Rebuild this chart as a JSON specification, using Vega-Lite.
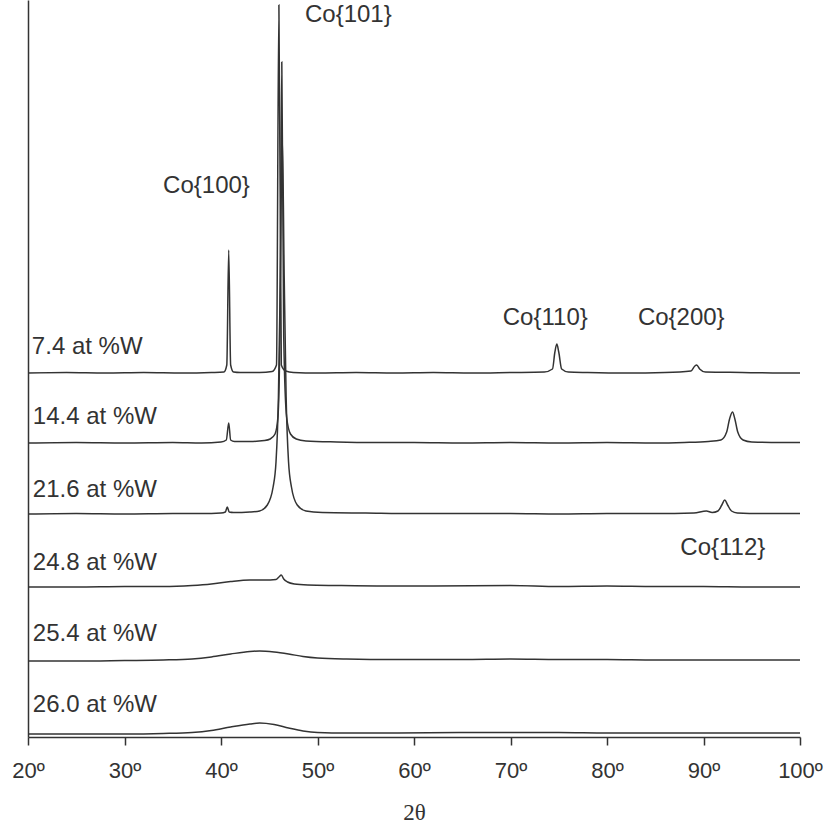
{
  "$schema": "https://vega.github.io/schema/vega-lite/v6.json",
  "width": 772,
  "height": 737,
  "autosize": {"type": "none"},
  "padding": {"left": 28, "top": 0, "right": 27, "bottom": 98},
  "background": "white",
  "config": {"view": {"stroke": null}},
  "datasets": {
    "traces": [
      {"s":"7.4","t":20,"y":364},{"s":"7.4","t":24,"y":364.5},{"s":"7.4","t":28,"y":364},{"s":"7.4","t":32,"y":364.5},{"s":"7.4","t":36,"y":364},{"s":"7.4","t":39,"y":364.5},{"s":"7.4","t":40.3,"y":365},{"s":"7.4","t":40.6,"y":372},{"s":"7.4","t":40.8,"y":487},{"s":"7.4","t":41.0,"y":372},{"s":"7.4","t":41.3,"y":365},{"s":"7.4","t":42,"y":364.5},{"s":"7.4","t":44,"y":364.5},{"s":"7.4","t":45.3,"y":365.5},{"s":"7.4","t":45.75,"y":372},{"s":"7.4","t":46.0,"y":732},{"s":"7.4","t":46.25,"y":372},{"s":"7.4","t":46.7,"y":366},{"s":"7.4","t":47.5,"y":364.5},{"s":"7.4","t":50,"y":364},{"s":"7.4","t":54,"y":364.5},{"s":"7.4","t":58,"y":364},{"s":"7.4","t":62,"y":364.5},{"s":"7.4","t":66,"y":364},{"s":"7.4","t":70,"y":364.5},{"s":"7.4","t":73.5,"y":365},{"s":"7.4","t":74.35,"y":368},{"s":"7.4","t":74.6,"y":385},{"s":"7.4","t":74.8,"y":393},{"s":"7.4","t":75.0,"y":385},{"s":"7.4","t":75.3,"y":368},{"s":"7.4","t":76,"y":365},{"s":"7.4","t":78,"y":364.5},{"s":"7.4","t":82,"y":364},{"s":"7.4","t":86,"y":364.5},{"s":"7.4","t":88.7,"y":366},{"s":"7.4","t":89.1,"y":371},{"s":"7.4","t":89.3,"y":372},{"s":"7.4","t":89.6,"y":368},{"s":"7.4","t":90.2,"y":365},{"s":"7.4","t":94,"y":364.5},{"s":"7.4","t":98,"y":364},{"s":"7.4","t":100,"y":364},

      {"s":"14.4","t":20,"y":294},{"s":"14.4","t":25,"y":294.5},{"s":"14.4","t":30,"y":294},{"s":"14.4","t":35,"y":294.5},{"s":"14.4","t":38,"y":294},{"s":"14.4","t":40,"y":295},{"s":"14.4","t":40.55,"y":297},{"s":"14.4","t":40.8,"y":314},{"s":"14.4","t":41.0,"y":297},{"s":"14.4","t":41.4,"y":295.5},{"s":"14.4","t":43,"y":295.5},{"s":"14.4","t":44.5,"y":296.5},{"s":"14.4","t":45.1,"y":298},{"s":"14.4","t":45.6,"y":303},{"s":"14.4","t":45.9,"y":320},{"s":"14.4","t":46.1,"y":400},{"s":"14.4","t":46.3,"y":675},{"s":"14.4","t":46.5,"y":400},{"s":"14.4","t":46.8,"y":320},{"s":"14.4","t":47.2,"y":303},{"s":"14.4","t":47.8,"y":298},{"s":"14.4","t":48.8,"y":296},{"s":"14.4","t":52,"y":295},{"s":"14.4","t":56,"y":294.5},{"s":"14.4","t":60,"y":294.5},{"s":"14.4","t":65,"y":294},{"s":"14.4","t":70,"y":294.5},{"s":"14.4","t":75,"y":294},{"s":"14.4","t":80,"y":294.5},{"s":"14.4","t":85,"y":294},{"s":"14.4","t":88,"y":294.5},{"s":"14.4","t":90.5,"y":295.5},{"s":"14.4","t":91.8,"y":297},{"s":"14.4","t":92.4,"y":305},{"s":"14.4","t":92.7,"y":318},{"s":"14.4","t":93.0,"y":325},{"s":"14.4","t":93.25,"y":318},{"s":"14.4","t":93.55,"y":305},{"s":"14.4","t":94.1,"y":297},{"s":"14.4","t":95,"y":295},{"s":"14.4","t":98,"y":294.5},{"s":"14.4","t":100,"y":294.5},

      {"s":"21.6","t":20,"y":223},{"s":"21.6","t":25,"y":223.5},{"s":"21.6","t":30,"y":223},{"s":"21.6","t":35,"y":223.5},{"s":"21.6","t":38,"y":223.5},{"s":"21.6","t":40,"y":224},{"s":"21.6","t":40.45,"y":225},{"s":"21.6","t":40.65,"y":230},{"s":"21.6","t":40.85,"y":225},{"s":"21.6","t":41.3,"y":224.5},{"s":"21.6","t":43,"y":225},{"s":"21.6","t":44,"y":226},{"s":"21.6","t":44.8,"y":232},{"s":"21.6","t":45.4,"y":250},{"s":"21.6","t":45.7,"y":275},{"s":"21.6","t":45.95,"y":340},{"s":"21.6","t":46.15,"y":460},{"s":"21.6","t":46.35,"y":600},{"s":"21.6","t":46.55,"y":460},{"s":"21.6","t":46.75,"y":340},{"s":"21.6","t":47.0,"y":275},{"s":"21.6","t":47.3,"y":250},{"s":"21.6","t":47.9,"y":232},{"s":"21.6","t":48.8,"y":226},{"s":"21.6","t":50.5,"y":224.5},{"s":"21.6","t":55,"y":224},{"s":"21.6","t":60,"y":223.5},{"s":"21.6","t":65,"y":223.5},{"s":"21.6","t":70,"y":223.5},{"s":"21.6","t":75,"y":223},{"s":"21.6","t":80,"y":223.5},{"s":"21.6","t":85,"y":223.5},{"s":"21.6","t":89,"y":224},{"s":"21.6","t":90.3,"y":226},{"s":"21.6","t":90.9,"y":224.5},{"s":"21.6","t":91.5,"y":226},{"s":"21.6","t":91.9,"y":232},{"s":"21.6","t":92.2,"y":237},{"s":"21.6","t":92.5,"y":232},{"s":"21.6","t":92.9,"y":226},{"s":"21.6","t":93.5,"y":224},{"s":"21.6","t":96,"y":223.5},{"s":"21.6","t":100,"y":223.5},

      {"s":"24.8","t":20,"y":150},{"s":"24.8","t":25,"y":150},{"s":"24.8","t":30,"y":150.5},{"s":"24.8","t":34,"y":150.5},{"s":"24.8","t":37,"y":151.5},{"s":"24.8","t":39,"y":153},{"s":"24.8","t":41,"y":155.5},{"s":"24.8","t":43,"y":157},{"s":"24.8","t":44.5,"y":157},{"s":"24.8","t":45.7,"y":157.5},{"s":"24.8","t":46.0,"y":160},{"s":"24.8","t":46.25,"y":162},{"s":"24.8","t":46.5,"y":158},{"s":"24.8","t":46.9,"y":155},{"s":"24.8","t":47.6,"y":153},{"s":"24.8","t":49,"y":152},{"s":"24.8","t":52,"y":151.5},{"s":"24.8","t":57,"y":151},{"s":"24.8","t":62,"y":151},{"s":"24.8","t":70,"y":151.5},{"s":"24.8","t":75,"y":150.5},{"s":"24.8","t":80,"y":151},{"s":"24.8","t":85,"y":150.5},{"s":"24.8","t":90,"y":150.5},{"s":"24.8","t":95,"y":150},{"s":"24.8","t":100,"y":150},

      {"s":"25.4","t":20,"y":76},{"s":"25.4","t":25,"y":76},{"s":"25.4","t":30,"y":76.5},{"s":"25.4","t":34,"y":77},{"s":"25.4","t":37,"y":78},{"s":"25.4","t":39,"y":80},{"s":"25.4","t":41,"y":83},{"s":"25.4","t":43,"y":85.5},{"s":"25.4","t":44,"y":86},{"s":"25.4","t":45.5,"y":85},{"s":"25.4","t":47,"y":83},{"s":"25.4","t":48.5,"y":80.5},{"s":"25.4","t":50,"y":79},{"s":"25.4","t":53,"y":78},{"s":"25.4","t":58,"y":77.5},{"s":"25.4","t":65,"y":77.5},{"s":"25.4","t":70,"y":78},{"s":"25.4","t":75,"y":77.5},{"s":"25.4","t":80,"y":77.5},{"s":"25.4","t":85,"y":77},{"s":"25.4","t":90,"y":77},{"s":"25.4","t":95,"y":77},{"s":"25.4","t":100,"y":77},

      {"s":"26.0","t":20,"y":3},{"s":"26.0","t":25,"y":3},{"s":"26.0","t":30,"y":3},{"s":"26.0","t":34,"y":3.5},{"s":"26.0","t":37,"y":4.5},{"s":"26.0","t":39,"y":6.5},{"s":"26.0","t":41,"y":10},{"s":"26.0","t":43,"y":13},{"s":"26.0","t":44,"y":14},{"s":"26.0","t":45.5,"y":12.5},{"s":"26.0","t":47,"y":9},{"s":"26.0","t":48.5,"y":6},{"s":"26.0","t":50,"y":4.5},{"s":"26.0","t":53,"y":4},{"s":"26.0","t":58,"y":4},{"s":"26.0","t":65,"y":4.5},{"s":"26.0","t":70,"y":4.5},{"s":"26.0","t":75,"y":4.5},{"s":"26.0","t":80,"y":4},{"s":"26.0","t":85,"y":4},{"s":"26.0","t":90,"y":4},{"s":"26.0","t":95,"y":4},{"s":"26.0","t":100,"y":4}
    ],
    "labels": [
      {"label":"7.4 at %W","t":20.4,"y":390},
      {"label":"14.4 at %W","t":20.5,"y":320},
      {"label":"21.6 at %W","t":20.5,"y":247},
      {"label":"24.8 at %W","t":20.5,"y":174},
      {"label":"25.4 at %W","t":20.5,"y":103},
      {"label":"26.0 at %W","t":20.5,"y":32},
      {"label":"Co{101}","t":48.7,"y":722},
      {"label":"Co{100}","t":34.0,"y":551},
      {"label":"Co{110}","t":69.2,"y":419},
      {"label":"Co{200}","t":83.2,"y":419},
      {"label":"Co{112}","t":87.6,"y":189}
    ]
  },
  "layer": [
    {
      "data": {"name": "traces"},
      "mark": {"type": "line", "color": "#333333", "strokeWidth": 1.5, "interpolate": "monotone"},
      "encoding": {
        "x": {
          "field": "t", "type": "quantitative",
          "scale": {"domain": [20, 100], "nice": false, "zero": false},
          "axis": {
            "values": [20, 30, 40, 50, 60, 70, 80, 90, 100],
            "labelExpr": "datum.value + 'º'",
            "grid": false,
            "tickSize": 8,
            "tickColor": "#333333",
            "tickWidth": 1.5,
            "domainColor": "#333333",
            "domainWidth": 1.5,
            "labelFont": "Liberation Sans",
            "labelFontSize": 22,
            "labelColor": "#333333",
            "labelPadding": 15,
            "labelFlush": false,
            "title": "2θ",
            "titleFont": "Liberation Serif",
            "titleFontSize": 23,
            "titleFontWeight": "normal",
            "titleColor": "#333333",
            "titlePadding": 20
          }
        },
        "y": {
          "field": "y", "type": "quantitative",
          "scale": {"domain": [0, 737], "nice": false, "zero": false},
          "axis": {"labels": false, "ticks": false, "grid": false, "title": null, "domainColor": "#333333", "domainWidth": 1.5}
        },
        "detail": {"field": "s"}
      }
    },
    {
      "data": {"name": "labels"},
      "mark": {"type": "text", "align": "left", "baseline": "middle", "font": "Liberation Sans", "fontSize": 24, "color": "#333333"},
      "encoding": {
        "x": {"field": "t", "type": "quantitative"},
        "y": {"field": "y", "type": "quantitative"},
        "text": {"field": "label"}
      }
    }
  ]
}
